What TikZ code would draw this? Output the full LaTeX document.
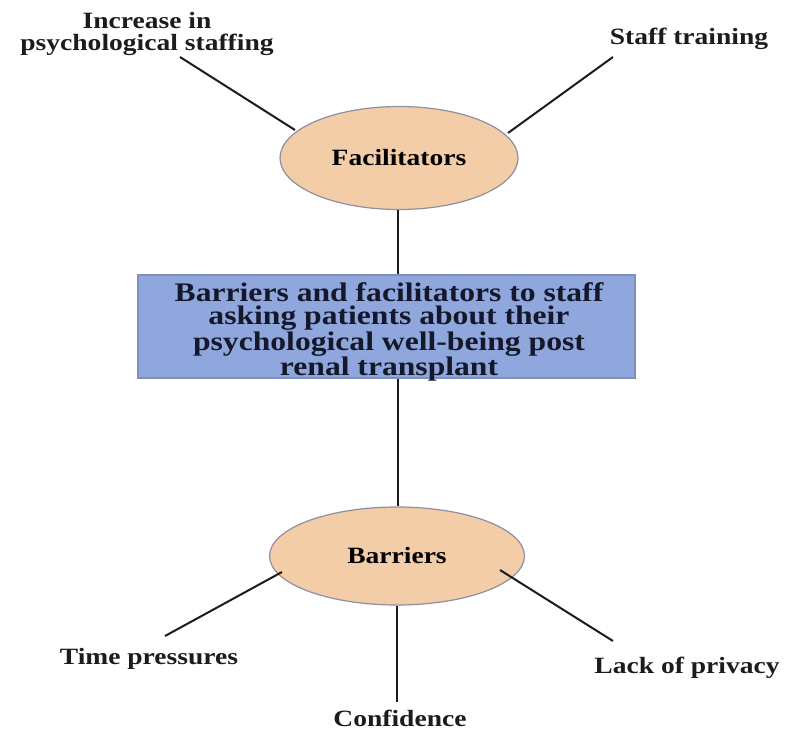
\documentclass[tikz,border=0pt]{standalone}
\usepackage{fontspec}
\setmainfont{Liberation Serif}[FakeStretch=1.18]
\usetikzlibrary{shapes.geometric}
\definecolor{peach}{HTML}{F3CCA8}
\definecolor{peachline}{HTML}{8E8FA0}
\definecolor{boxblue}{HTML}{8FA7DC}
\definecolor{boxline}{HTML}{7E90BE}
\definecolor{ink}{HTML}{1C1C1C}
\definecolor{navy}{HTML}{14182A}
\tikzset{
  oval/.style={ellipse, fill=peach, draw=peachline, line width=0.9pt, inner sep=0pt},
  mainbox/.style={rectangle, fill=boxblue, draw=boxline, line width=0.9pt, inner sep=0pt},
  lbl/.style={align=center, inner sep=0pt, text=ink},
  link/.style={draw=ink, line width=1.5pt},
  txt/.style={font=\bfseries\fontsize{17.5}{16}\selectfont},
  boxtxt/.style={align=center, inner sep=0pt, text=navy, font=\bfseries\fontsize{20.1}{17.3}\selectfont}
}
\begin{document}
\begin{tikzpicture}[x=0.75pt,y=-0.75pt]
\useasboundingbox (0,0) rectangle (786,732);
\node[oval, minimum width=238*0.75pt, minimum height=103*0.75pt, txt] (fac) at (399,158) {Facilitators};
\node[mainbox, minimum width=497*0.75pt, minimum height=103*0.75pt] (main) at (386.5,326.5) {};
\node[boxtxt] (maintext) at (389,332)
  {Barriers and facilitators to staff\\asking patients about their\\psychological well-being post\\renal transplant};
\node[oval, minimum width=255*0.75pt, minimum height=98*0.75pt, txt] (bar) at (397,556) {Barriers};
\node[lbl, txt] (inc) at (147,34) {Increase in\\psychological staffing};
\node[lbl, txt] (st) at (689,39) {Staff training};
\node[lbl, txt] (tp) at (149,659) {Time pressures};
\node[lbl, txt] (lp) at (687,668) {Lack of privacy};
\node[lbl, txt] (conf) at (400,718) {Confidence};
\coordinate (incend) at (180,57);
\coordinate (stend) at (613,57);
\coordinate (tpend) at (165,636);
\coordinate (lpend) at (613,641);
\coordinate (confend) at (397,702);
\coordinate (facA) at (295,130);
\coordinate (facB) at (508,133);
\coordinate (barA) at (282,572);
\coordinate (barB) at (500,570);
\draw[link] (incend) -- (facA);
\draw[link] (stend) -- (facB);
\draw[link] (fac.south -| 398,0) -- (main.north -| 398,0);
\draw[link] (main.south -| 398,0) -- (bar.north -| 398,0);
\draw[link] (barA) -- (tpend);
\draw[link] (barB) -- (lpend);
\draw[link] (bar.south -| 397,0) -- (confend);
\end{tikzpicture}
\end{document}
